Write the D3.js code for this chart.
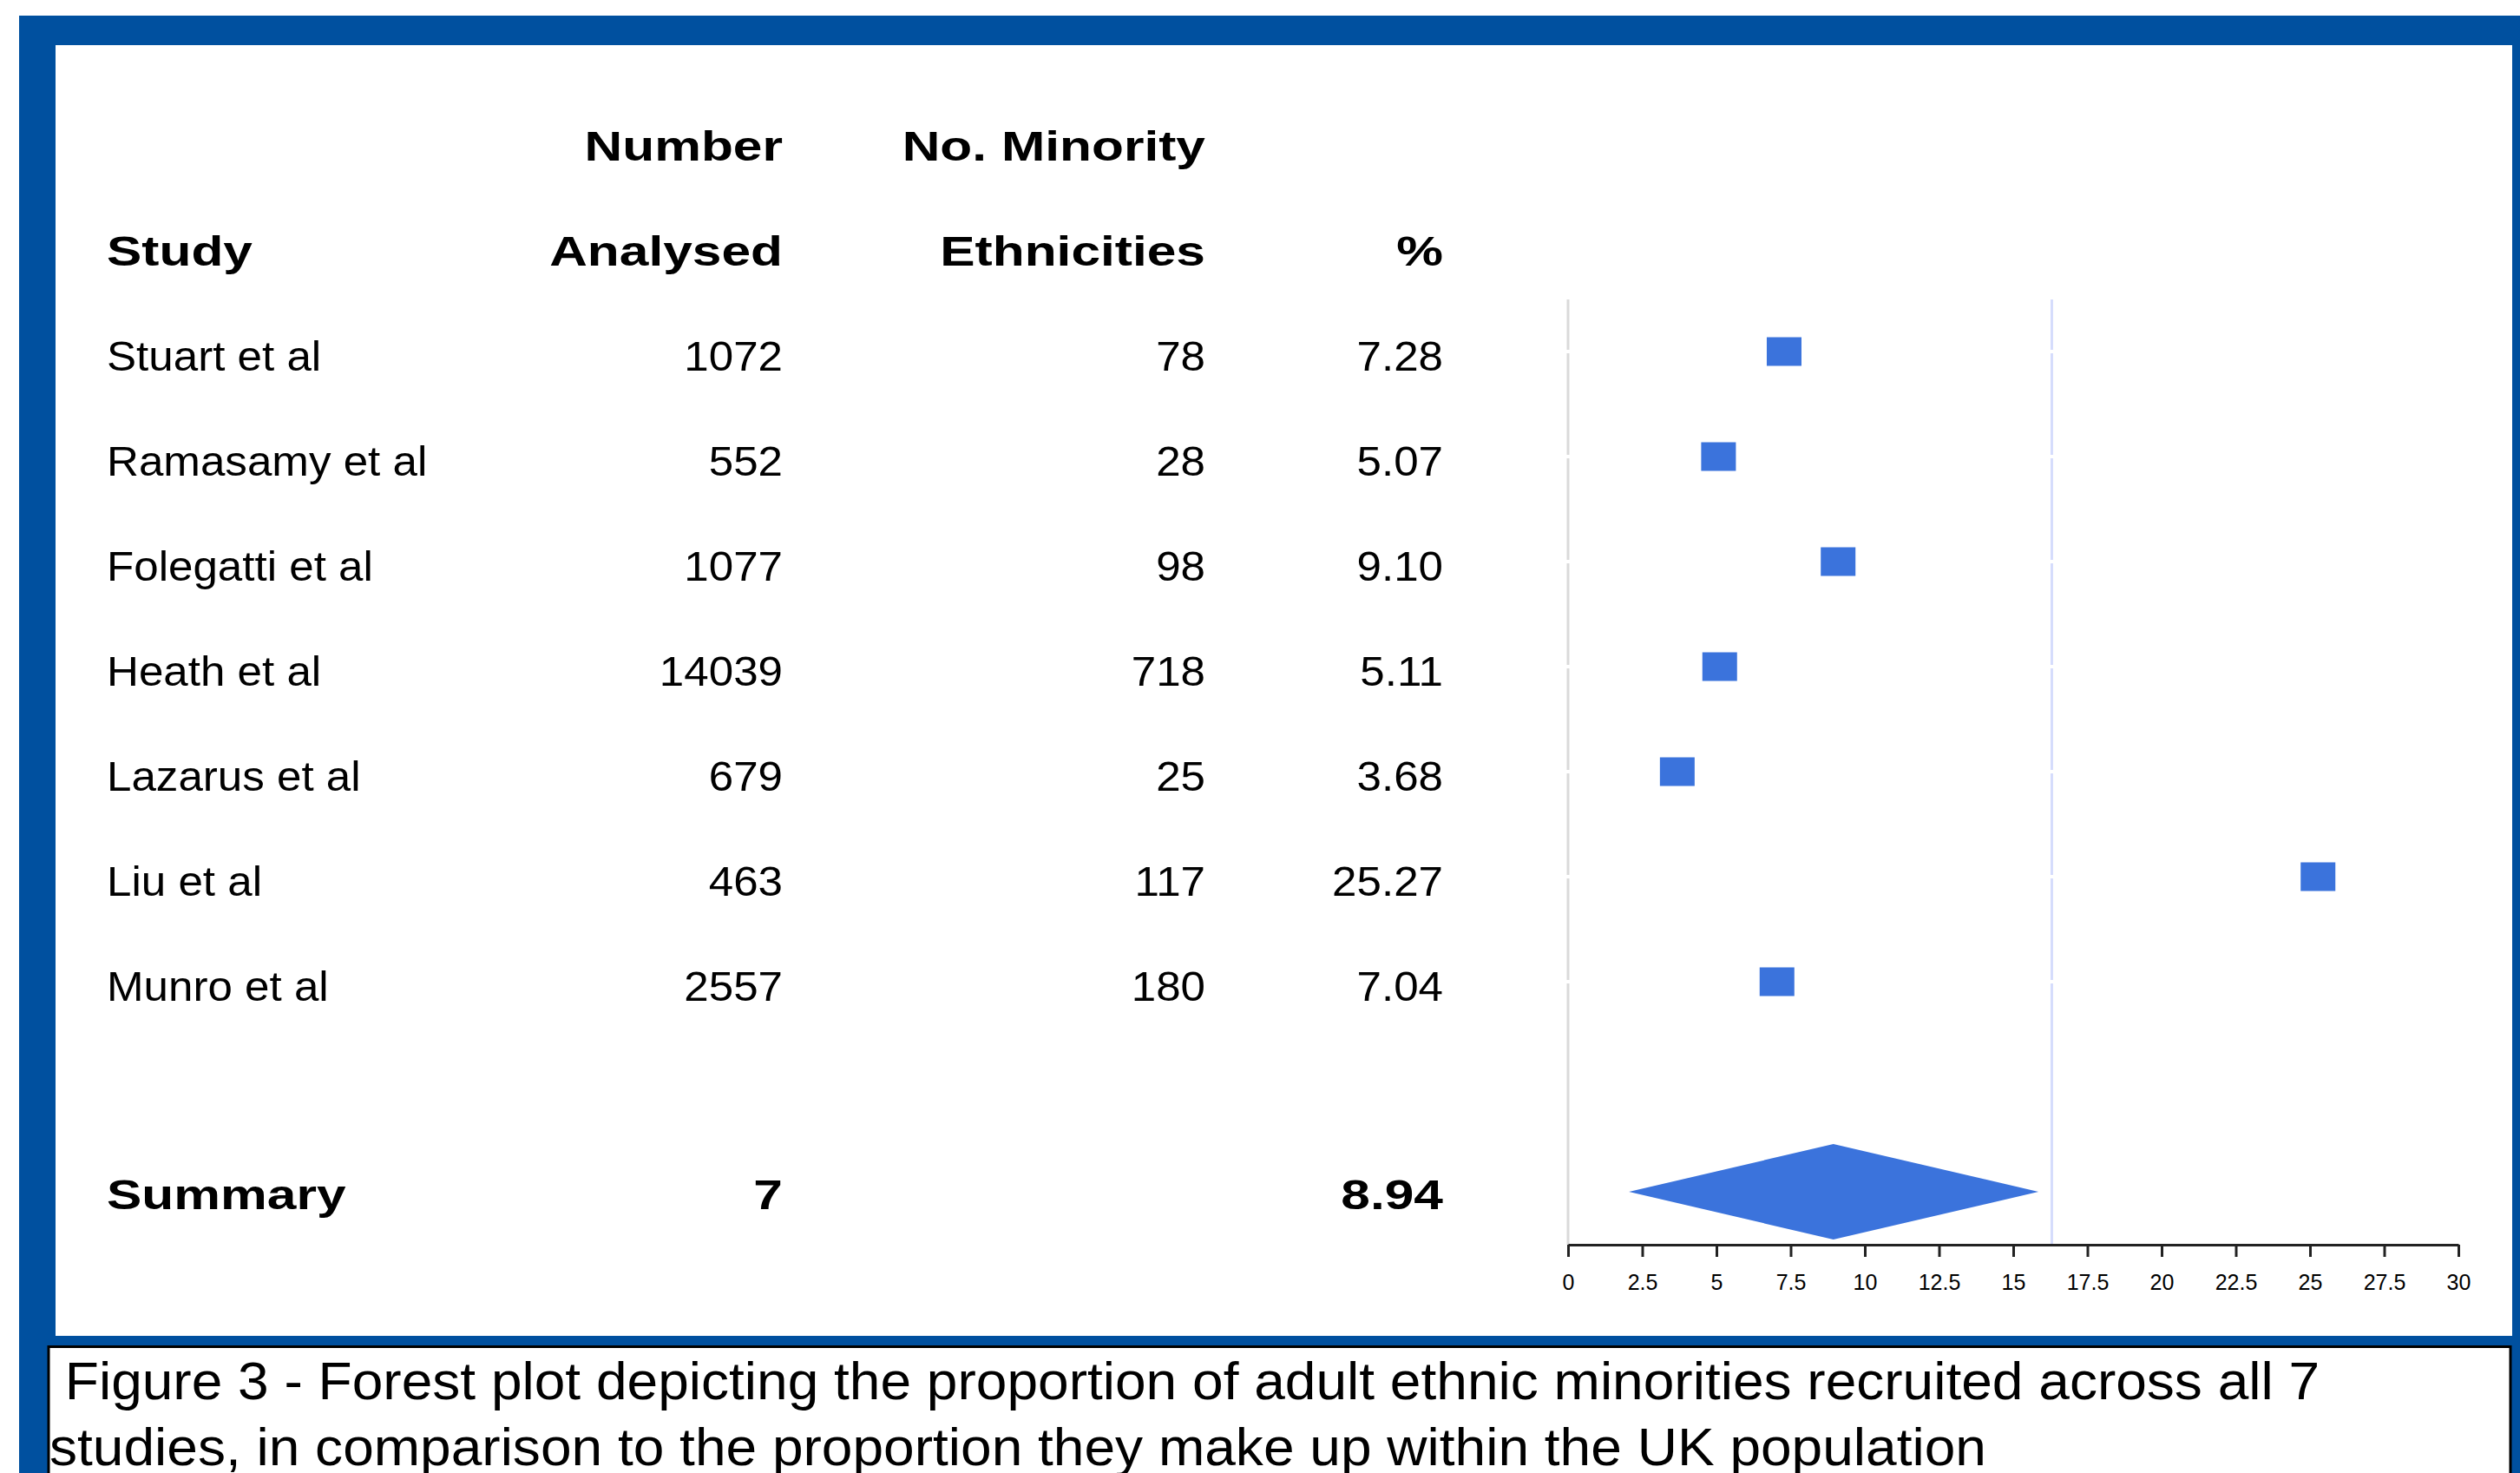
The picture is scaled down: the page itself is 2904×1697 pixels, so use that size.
<!DOCTYPE html>
<html>
<head>
<meta charset="utf-8">
<script src="https://cdn.jsdelivr.net/npm/d3@7"></script>
<style>
  html, body { margin: 0; padding: 0; background: #ffffff; }
  svg { display: block; }
  text { font-family: "Liberation Sans", Arial, Helvetica, sans-serif; fill: #000; }
</style>
</head>
<body>
<svg id="chart" width="2904" height="1697"></svg>
<script>
// ---------------- data ----------------
const studies   = ["Stuart et al", "Ramasamy et al", "Folegatti et al", "Heath et al", "Lazarus et al", "Liu et al", "Munro et al"];
const analysed  = [1072, 552, 1077, 14039, 679, 463, 2557];
const minority  = [78, 28, 98, 718, 25, 117, 180];
const percent   = [7.28, 5.07, 9.10, 5.11, 3.68, 25.27, 7.04];

const summaryLabel   = "Summary";
const summaryStudies = 7;
const summaryEst     = 8.94;
const summaryLower   = 2.05;
const summaryUpper   = 15.85;

const referenceValue = 16.3;   // UK population proportion (light blue line)
const nullValue      = 0;      // grey line

const headerRow1 = ["", "Number", "No. Minority", ""];
const headerRow2 = ["Study", "Analysed", "Ethnicities", "%"];
const xTicks     = [0, 2.5, 5, 7.5, 10, 12.5, 15, 17.5, 20, 22.5, 25, 27.5, 30];

const captionLines = [
  " Figure 3 - Forest plot depicting the proportion of adult ethnic minorities recruited across all 7",
  "studies, in comparison to the proportion they make up within the UK population"
];

// ---------------- layout ----------------
const W = 2904, H = 1697;
const frameBlue = "#00509f";
const markBlue  = "#3b73dc";

const svg = d3.select("#chart");

// frame
svg.append("rect").attr("x", 22).attr("y", 18).attr("width", W - 22).attr("height", H - 18).attr("fill", frameBlue);
svg.append("rect").attr("x", 64).attr("y", 52).attr("width", 2895 - 64).attr("height", 1539 - 52).attr("fill", "#fff");
svg.append("rect").attr("x", 56).attr("y", 1551.5).attr("width", 2893 - 56).attr("height", 200)
   .attr("fill", "#fff").attr("stroke", "#000").attr("stroke-width", 3);

// scales
const rowKeys = ["h1", "h2", ...studies, "gap", summaryLabel];
const y = d3.scalePoint().domain(rowKeys).range([163, 1373]);
const x = d3.scaleLinear().domain([0, 30]).range([1807, 2833]);

const colRight = [null, 902, 1389, 1663];
const colLeft0 = 123;
const baseOff = 22;   // text baseline offset from row centre

function addText(g, str, xPos, yPos, anchor, bold, size, sx) {
  g.append("text")
    .attr("transform", `translate(${xPos},${yPos}) scale(${sx},1)`)
    .attr("text-anchor", anchor)
    .attr("font-size", size)
    .attr("font-weight", bold ? "bold" : "normal")
    .style("white-space", "pre")
    .text(str);
}

const table = svg.append("g");
const boldSX = 1.26, regSX = 1.065, fs = 48;

// headers
[headerRow1, headerRow2].forEach((row, ri) => {
  const yy = y(ri === 0 ? "h1" : "h2") + baseOff;
  row.forEach((t, ci) => {
    if (!t) return;
    if (ci === 0) addText(table, t, colLeft0, yy, "start", true, fs, boldSX);
    else addText(table, t, colRight[ci], yy, "end", true, fs, boldSX);
  });
});

// study rows
const fmtPct = d3.format(".2f");
studies.forEach((s, i) => {
  const yy = y(s) + baseOff;
  addText(table, s, colLeft0, yy, "start", false, fs, regSX);
  addText(table, String(analysed[i]), colRight[1], yy, "end", false, fs, regSX);
  addText(table, String(minority[i]), colRight[2], yy, "end", false, fs, regSX);
  addText(table, fmtPct(percent[i]), colRight[3], yy, "end", false, fs, regSX);
});

// summary row
{
  const yy = y(summaryLabel) + 20;
  addText(table, summaryLabel, colLeft0, yy, "start", true, fs, boldSX);
  addText(table, String(summaryStudies), colRight[1], yy, "end", true, fs, boldSX);
  addText(table, fmtPct(summaryEst), colRight[3], yy, "end", true, fs, boldSX);
}

// ---------------- plot ----------------
const plot = svg.append("g");
const axisY = 1434;
const lineTop = 345;

// vertical lines, segmented at each study row centre
const centres = studies.map(s => y(s));
const bounds = [lineTop, ...centres, axisY];
function vSegments(val, color) {
  for (let i = 0; i < bounds.length - 1; i++) {
    const a = i === 0 ? bounds[i] : bounds[i] + 2;
    const b = i === bounds.length - 2 ? bounds[i + 1] : bounds[i + 1] - 2;
    plot.append("line")
      .attr("x1", x(val)).attr("x2", x(val))
      .attr("y1", a).attr("y2", b)
      .attr("stroke", color).attr("stroke-width", 3);
  }
}
vSegments(nullValue, "#dadada");
vSegments(referenceValue, "#d5dcfc");

// squares
const boxW = 40, boxH = 33;
plot.selectAll("rect.box").data(studies).join("rect")
  .attr("class", "box")
  .attr("x", (d, i) => x(percent[i]) - boxW / 2)
  .attr("y", d => y(d) - boxH / 2)
  .attr("width", boxW).attr("height", boxH)
  .attr("fill", markBlue);

// diamond
const dh = 55, yS = y(summaryLabel);
const diamondPts = [[summaryLower, 0], [summaryEst, -dh], [summaryUpper, 0], [summaryEst, dh]];
plot.append("path")
  .attr("d", d3.line().x(d => x(d[0])).y(d => yS + d[1])(diamondPts) + "Z")
  .attr("fill", markBlue);

// axis
const axis = d3.axisBottom(x).tickValues(xTicks).tickFormat(d3.format("~g"))
  .tickSize(14).tickSizeOuter(0).tickPadding(20);
const ag = plot.append("g").attr("transform", `translate(0,${axisY})`).call(axis);
ag.select(".domain").attr("stroke", "#222").attr("stroke-width", 3);
ag.selectAll(".tick line").attr("stroke", "#222").attr("stroke-width", 3);
ag.selectAll(".tick text").attr("fill", "#222").attr("font-size", 25)
  .attr("font-family", '"Liberation Sans", Arial, sans-serif');

// ---------------- caption ----------------
const cap = svg.append("g");
const capBase = [1612, 1688];
captionLines.forEach((t, i) => addText(cap, t, 57, capBase[i], "start", false, 61, 1.05));
</script>
</body>
</html>
